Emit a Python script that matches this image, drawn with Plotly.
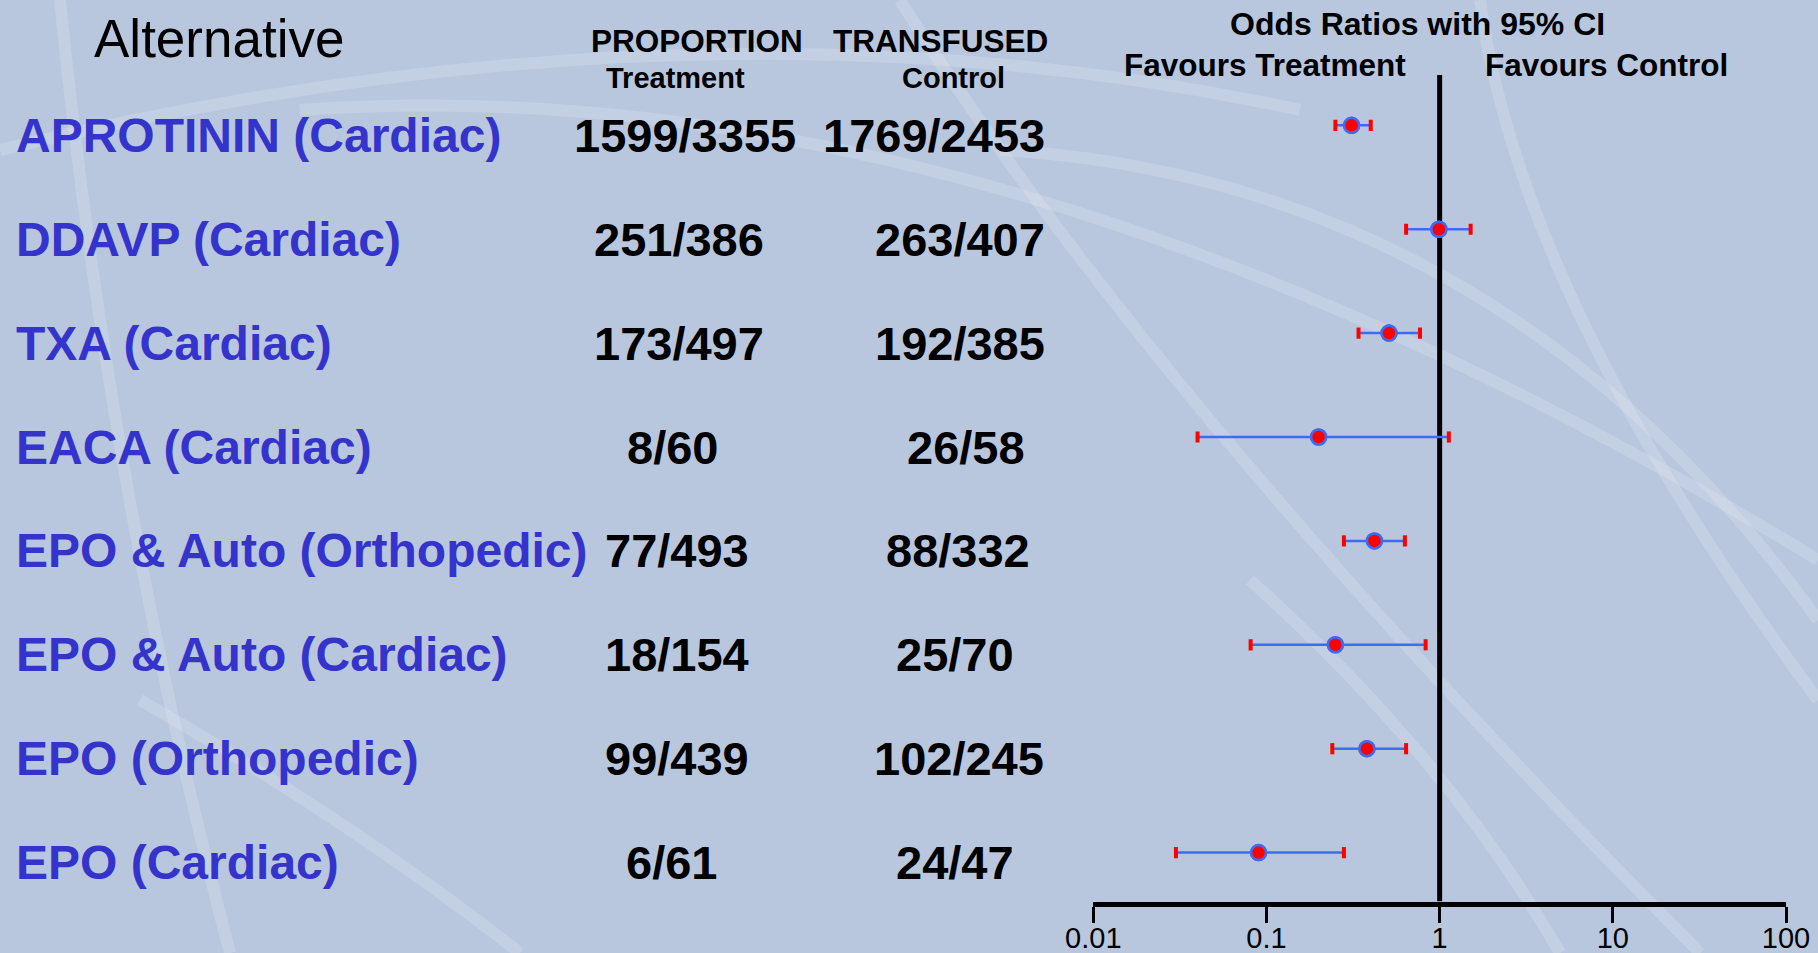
import plotly.graph_objects as go

# ---------------- data ----------------
labels = ["APROTININ (Cardiac)", "DDAVP (Cardiac)", "TXA (Cardiac)", "EACA (Cardiac)",
          "EPO & Auto (Orthopedic)", "EPO & Auto (Cardiac)", "EPO (Orthopedic)", "EPO (Cardiac)"]
treatment = ["1599/3355", "251/386", "173/497", "8/60", "77/493", "18/154", "99/439", "6/61"]
control = ["1769/2453", "263/407", "192/385", "26/58", "88/332", "25/70", "102/245", "24/47"]
odds_ratio = [0.31, 0.99, 0.51, 0.20, 0.42, 0.25, 0.38, 0.09]
ci_low = [0.25, 0.64, 0.34, 0.040, 0.28, 0.081, 0.24, 0.030]
ci_high = [0.40, 1.51, 0.77, 1.13, 0.63, 0.83, 0.64, 0.28]
tick_vals = [0.01, 0.1, 1, 10, 100]
tick_text = ["0.01", "0.1", "1", "10", "100"]

# ---------------- layout constants ----------------
W, H = 1818, 953
FONT = "Liberation Sans"
BLUE_TXT = "#3434CC"
BAR_BLUE = "#3D6BF5"
RED = "#FF0000"
col1_center = [685, 679, 679, 672, 677, 677, 677, 671]
col2_center = [934, 960, 960, 966, 958, 955, 959, 955]

def px(x):
    return x / W

def py(y):
    return 1 - y / H

rows = list(range(len(labels)))
y_top, y_bot = -0.5, 7.471

fig = go.Figure()

# null-effect line at OR = 1
fig.add_trace(go.Scatter(x=[1, 1], y=[-0.484, y_bot], mode="lines",
                         line=dict(color="black", width=5), hoverinfo="skip",
                         showlegend=False, cliponaxis=False))

# CI bars + point estimates
fig.add_trace(go.Scatter(
    x=odds_ratio, y=rows, mode="markers",
    marker=dict(size=15, color=RED, line=dict(color=BAR_BLUE, width=2.5)),
    error_x=dict(type="data", symmetric=False,
                 array=[h - o for h, o in zip(ci_high, odds_ratio)],
                 arrayminus=[o - l for o, l in zip(odds_ratio, ci_low)],
                 color=BAR_BLUE, thickness=2.5, width=0),
    showlegend=False))

# red caps at CI ends
fig.add_trace(go.Scatter(
    x=ci_low + ci_high, y=rows + rows, mode="markers",
    marker=dict(symbol="line-ns", size=8, color=RED, line=dict(color=RED, width=4)),
    showlegend=False))

# point markers on top
fig.add_trace(go.Scatter(
    x=odds_ratio, y=rows, mode="markers",
    marker=dict(size=15, color=RED, line=dict(color=BAR_BLUE, width=2.5)),
    showlegend=False))

ann = []
def add_text(text, x, y, size, color="black", bold=True, xanchor="center", **kw):
    ann.append(dict(text=text, x=x, y=y, xref="paper", yref=kw.pop("yref", "paper"),
                    showarrow=False, xanchor=xanchor, yanchor="middle",
                    font=dict(family=FONT, size=size, color=color,
                              weight="bold" if bold else "normal"), **kw))

add_text("Alternative", px(218.5), py(38.5), 53, bold=False)
add_text("PROPORTION", px(697), py(41), 31.5)
add_text("TRANSFUSED", px(941), py(41), 31.5)
add_text("Treatment", px(675), py(78), 29)
add_text("Control", px(953), py(78), 29)
add_text("Odds Ratios with 95% CI", px(1417), py(24), 32)
add_text("Favours Treatment", px(1265), py(64.5), 31.5)
add_text("Favours Control", px(1606), py(64.5), 31.5)

for i in rows:
    add_text(labels[i], px(14), i, 48, color=BLUE_TXT, xanchor="left", yref="y", yshift=-10)
    add_text(treatment[i], px(col1_center[i]), i, 47, yref="y", yshift=-10)
    add_text(control[i], px(col2_center[i]), i, 47, yref="y", yshift=-10)

# decorative faint swooshes of the slide background
def path_px(points):
    (x0, y0), (cx, cy), (x1, y1) = points
    return f"M {px(x0)},{py(y0)} Q {px(cx)},{py(cy)} {px(x1)},{py(y1)}"

swooshes = [
    [(0, 150), (700, -20), (1300, 110)],
    [(300, 110), (1000, 60), (1818, 560)],
    [(1000, 150), (1500, 180), (1818, 620)],
    [(1250, 580), (1450, 760), (1560, 953)],
    [(140, 700), (350, 820), (520, 953)],
    [(900, 0), (1150, 400), (1700, 953)],
    [(60, 0), (110, 500), (230, 953)],
    [(1480, 0), (1520, 300), (1818, 700)],
]
shapes = []
for s in swooshes:
    shapes.append(dict(type="path", path=path_px(s), xref="paper", yref="paper",
                       line=dict(color="rgba(255,255,255,0.15)", width=12), layer="below"))

fig.update_layout(
    width=W, height=H, autosize=False,
    margin=dict(l=0, r=0, t=0, b=0, pad=0, autoexpand=False),
    paper_bgcolor="#B9C7DE", plot_bgcolor="rgba(0,0,0,0)",
    annotations=ann, shapes=shapes, showlegend=False,
    xaxis=dict(type="log", range=[-2, 2], domain=[px(1093.3), px(1786)],
               tickvals=tick_vals, ticktext=tick_text, automargin=False,
               ticks="outside", ticklen=16, tickwidth=3, tickcolor="black",
               ticklabelstandoff=-9,
               showline=True, linewidth=5, linecolor="black",
               showgrid=False, zeroline=False,
               tickfont=dict(family=FONT, size=29, color="black")),
    yaxis=dict(range=[y_bot, y_top], domain=[1 - 901.5 / H, 1 - 73.4 / H],
               visible=False, showgrid=False, zeroline=False, automargin=False),
)

fig.write_html("out.html", config={"displayModeBar": False},
               post_script="document.body.style.margin='0px';"
                           "document.body.style.overflow='hidden';")
